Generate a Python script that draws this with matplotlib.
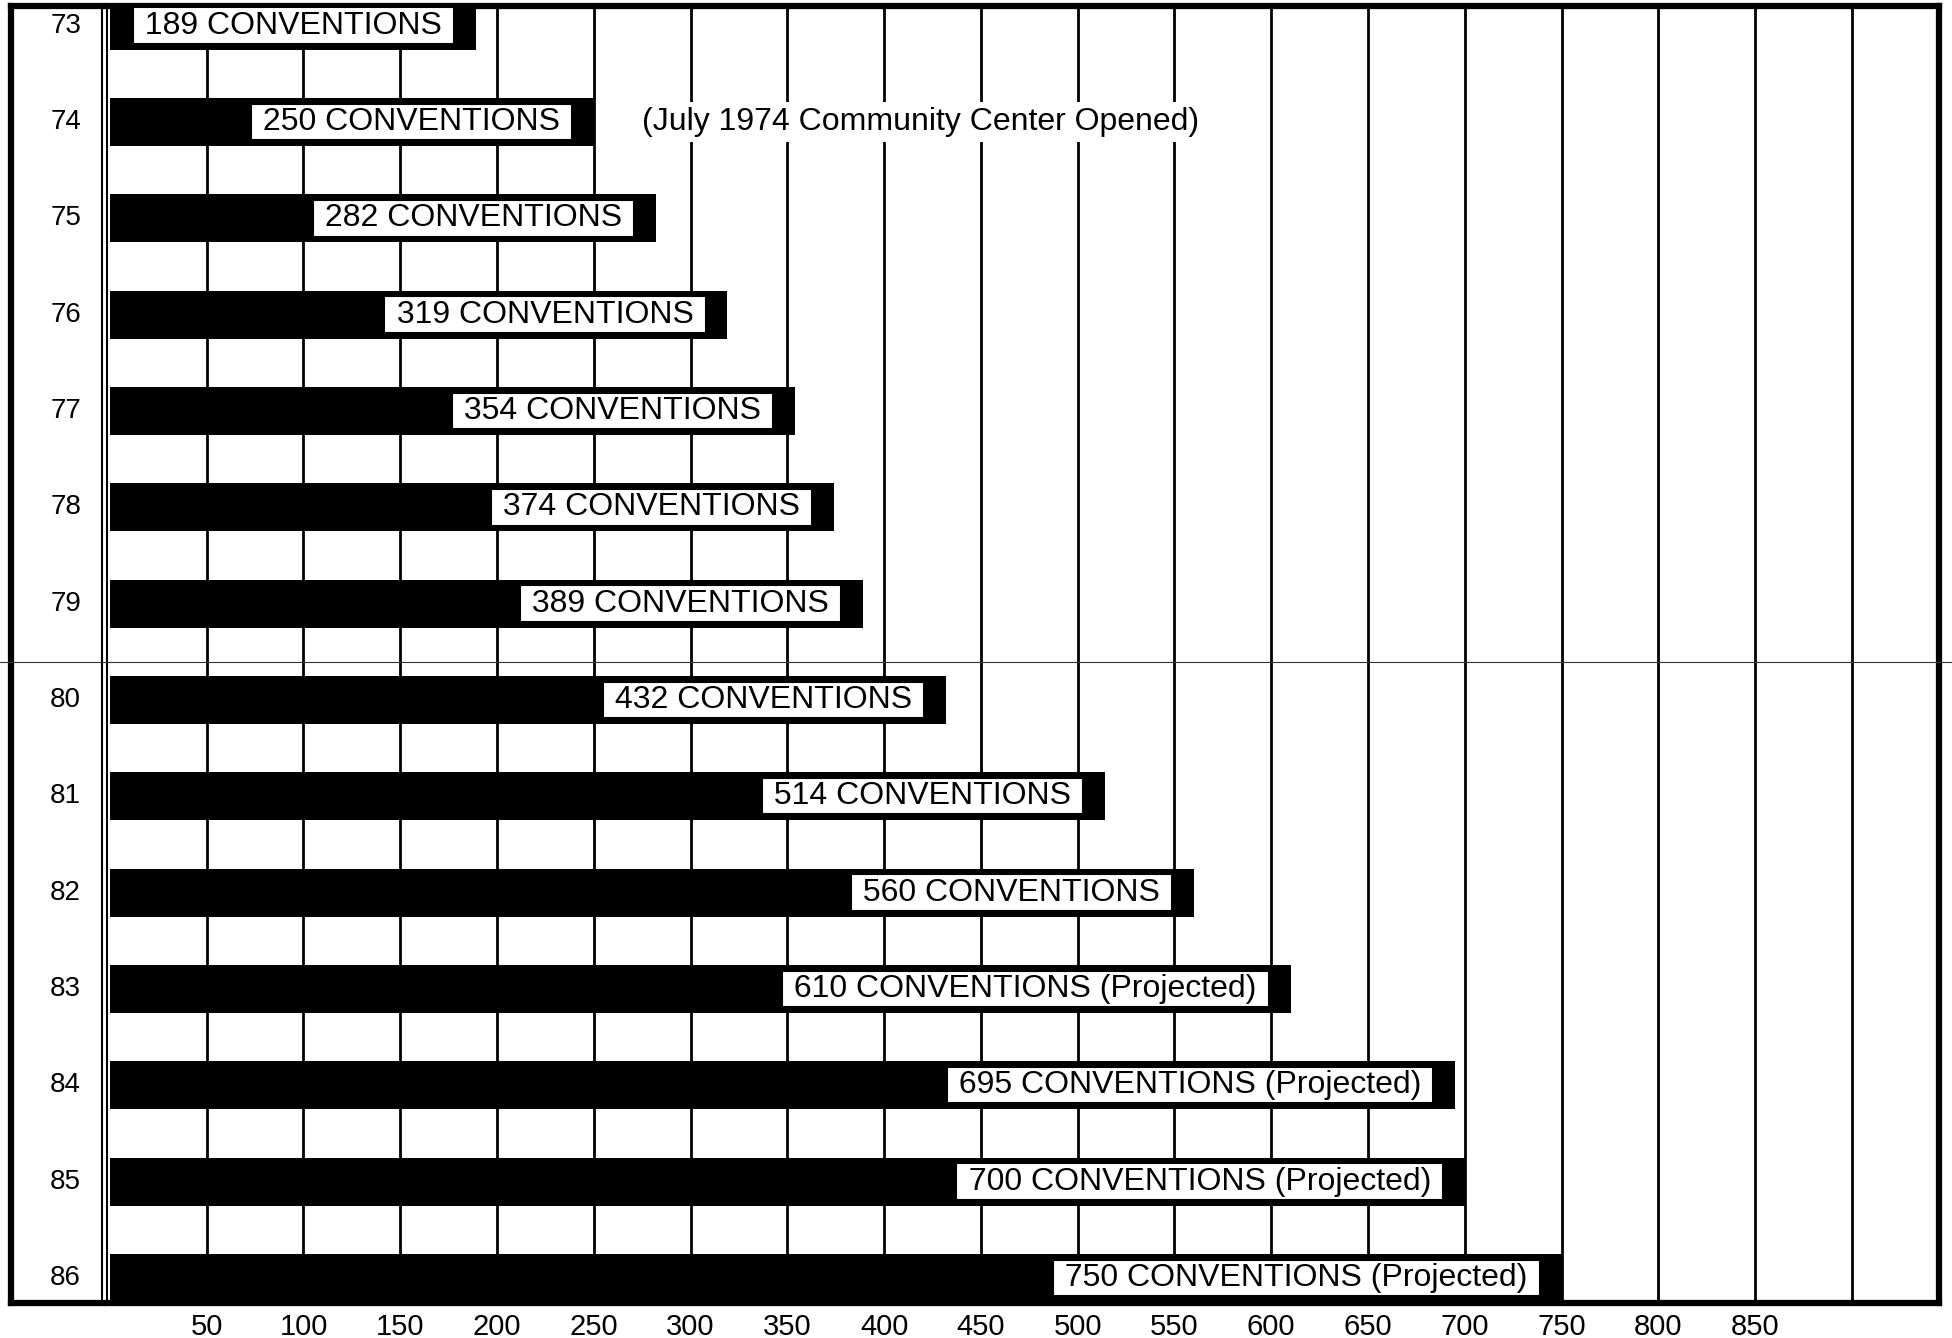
import matplotlib
matplotlib.use("Agg")
import matplotlib.pyplot as plt
from matplotlib.lines import Line2D

plt.rcParams['font.family'] = ['Liberation Sans', 'DejaVu Sans']

# ---- data -------------------------------------------------------------
years = ["73", "74", "75", "76", "77", "78", "79",
         "80", "81", "82", "83", "84", "85", "86"]
conventions = [189, 250, 282, 319, 354, 374, 389,
               432, 514, 560, 610, 695, 700, 750]
projected = [False, False, False, False, False, False, False,
             False, False, False, True, True, True, True]
tick_values = [50, 100, 150, 200, 250, 300, 350, 400, 450,
               500, 550, 600, 650, 700, 750, 800, 850, 900]
tick_labels = ["50", "100", "150", "200", "250", "300", "350", "400", "450",
               "500", "550", "600", "650", "700", "750", "800", "850", ""]
note_text = "(July 1974 Community Center Opened)"
note_year = "74"
note_x = 275

# ---- figure geometry (pixels) ----------------------------------------
W, H = 1952, 1338
fig = plt.figure(figsize=(W / 100, H / 100), dpi=100)
fig.patch.set_facecolor("white")

top_px, bot_px = 6, 1303
plot_l, plot_r = 107, 1939
col_l, col_r = 11, 102

def frac_box(l, r):
    return [l / W, 1 - bot_px / H, (r - l) / W, (bot_px - top_px) / H]

ax = fig.add_axes(frac_box(plot_l, plot_r))
ycol = fig.add_axes(frac_box(col_l, col_r))

rows = list(range(len(years)))
ylim = (13.26, -0.204)

# ---- bars and vertical rules -----------------------------------------
ax.barh(rows, conventions, height=0.5, color="black", zorder=3)
ax.set_xlim(-1.5, 945)
ax.set_ylim(*ylim)
ax.set_xticks(tick_values)
ax.set_xticklabels(tick_labels, family=['Liberation Sans Narrow', 'Liberation Sans'],
                   fontsize=21)
ax.tick_params(axis="x", length=0, pad=7)
ax.set_yticks([])
ax.grid(axis="x", color="black", linewidth=2.0, zorder=1)
ax.set_axisbelow(True)

thick = 4.5
for side in ("top", "right", "bottom"):
    ax.spines[side].set_linewidth(thick)
ax.spines["left"].set_linewidth(1.5)

# value labels sitting near the end of each bar
for r, v, p in zip(rows, conventions, projected):
    label = f" {v} CONVENTIONS" + (" (Projected)" if p else "") + " "
    ax.annotate(label, xy=(v, r), xytext=(-18, 0), textcoords="offset points",
                ha="right", va="center", fontsize=23, color="black", zorder=5,
                bbox=dict(boxstyle="square,pad=0.1", fc="white", ec="black", lw=1.5))

# note on the 1974 row
ax.text(note_x, years.index(note_year), note_text, ha="left", va="center",
        fontsize=23, color="black", zorder=4,
        bbox=dict(boxstyle="square,pad=0.15", fc="white", ec="none"))

# ---- year column -----------------------------------------------------
ycol.set_xlim(0, 1)
ycol.set_ylim(*ylim)
ycol.set_xticks([])
ycol.set_yticks([])
for side in ("left", "top", "bottom"):
    ycol.spines[side].set_linewidth(thick)
ycol.spines["right"].set_linewidth(1.5)
for r, yr in zip(rows, years):
    ycol.text(0.6, r, yr, ha="center", va="center", fontsize=20, color="black")

# thin rule running across the page between the 79 and 80 rows
fig.add_artist(Line2D([0, 1], [1 - 662 / H, 1 - 662 / H], transform=fig.transFigure,
                      color="#333333", linewidth=0.8, zorder=0.5))

fig.savefig("out.png", dpi=100, facecolor="white")
